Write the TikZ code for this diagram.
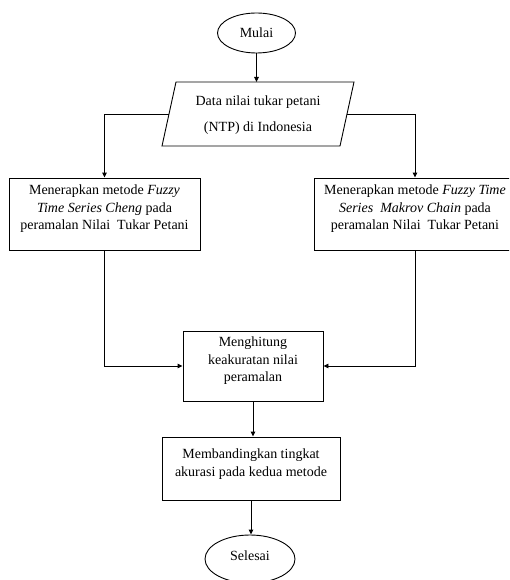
\documentclass[tikz,border=0pt]{standalone}
\usepackage{fontspec}
\setmainfont{Liberation Serif}
\usetikzlibrary{shapes.geometric,arrows.meta}
\begin{document}
\begin{tikzpicture}[x=1pt,y=-1pt,
  every node/.style={font=\fontsize{14}{17.5}\selectfont},
  proc/.style={draw, line width=0.9pt, rectangle, inner sep=0pt},
  term/.style={draw, line width=0.9pt, ellipse, inner sep=0pt},
  txt/.style={align=center, inner sep=0pt},
  shp/.style={draw, line width=0.9pt, line join=miter},
  arr/.style={line width=0.9pt, -{Triangle[length=5pt,width=4.5pt]}}]
\useasboundingbox (0,0) rectangle (509,580);
\clip (0,0) rectangle (509,580);
% nodes
\node[term, minimum width=78pt, minimum height=40pt] (mulai) at (256.5,33) {Mulai};
\node[txt, font=\fontsize{14}{26}\selectfont] (data) at (258,115) {Data nilai tukar petani\\(NTP) di Indonesia};
\coordinate (dTL) at (176,82);
\coordinate (dTR) at (354,82);
\coordinate (dBR) at (340,146);
\coordinate (dBL) at (162,146);
\coordinate (dL) at (169,114);
\coordinate (dR) at (347,114);
\coordinate (dT) at (256.5,82);
\draw[shp] (dTL) -- (dTR) -- (dBR) -- (dBL) -- cycle;
\node[proc, minimum width=191pt, minimum height=72pt] (left) at (104.5,214) {};
\node[txt] (leftt) at ([yshift=5pt]left.center) {Menerapkan metode \textit{Fuzzy}\\\textit{Time\ Series\ Cheng} pada\\peramalan Nilai\ \ Tukar Petani};
\node[proc, minimum width=202pt, minimum height=72pt] (right) at (415,214) {};
\node[txt] (rightt) at ([yshift=5pt]right.center) {Menerapkan metode \textit{Fuzzy Time}\\\textit{Series\ \ Makrov Chain} pada\\peramalan Nilai\ \ Tukar Petani};
\node[proc, minimum width=140pt, minimum height=70pt] (mid) at (253,366) {};
\node[txt] (midt) at ([yshift=5pt]mid.center) {Menghitung\\keakuratan nilai\\peramalan};
\node[proc, minimum width=178pt, minimum height=63pt] (cmp) at (251,468.5) {};
\node[txt] (cmpt) at ([yshift=4.5pt]cmp.center) {Membandingkan tingkat\\akurasi pada kedua metode};
\node[term, minimum width=90pt, minimum height=48pt] (selesai) at (250,559) {};
\node[txt] (selesait) at ([yshift=3pt]selesai.center) {Selesai};
% connectors
\draw[arr] (mulai.south) -- (dT);
\draw[arr] (dL) -| (left.north);
\draw[arr] (dR) -| (right.north);
\draw[arr] (left.south) |- (mid.west);
\draw[arr] (right.south) |- (mid.east);
\draw[arr] (mid.south) -- (mid.south |- cmp.north);
\draw[arr] (cmp.south) -- (cmp.south |- selesai.north);
\end{tikzpicture}
\end{document}
